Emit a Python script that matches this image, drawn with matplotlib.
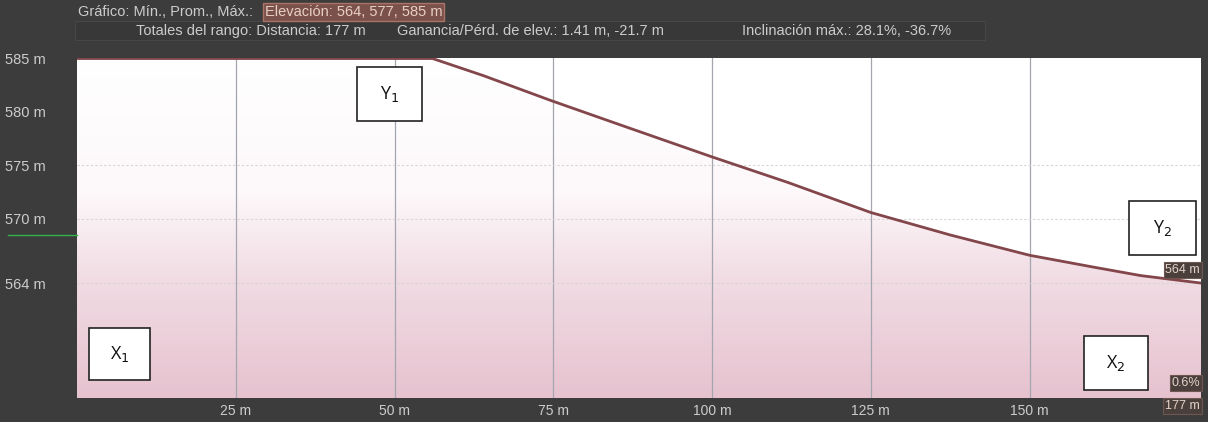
import numpy as np
import matplotlib
matplotlib.use("Agg")
import matplotlib.pyplot as plt
from matplotlib.colors import LinearSegmentedColormap
from matplotlib.patches import Polygon, Rectangle
from matplotlib.lines import Line2D

# elevation profile (distance in m, elevation in m)
distance = [0, 15, 30, 45, 56, 64, 74.5, 86, 100, 112, 125, 137.5, 150, 160, 167.5, 177]
elevation = [585, 585, 585, 585, 585, 583.4, 581.1, 578.7, 575.8, 573.4, 570.6, 568.5,
             566.6, 565.5, 564.7, 564.0]

x_ticks = [25, 50, 75, 100, 125, 150]
x_tick_labels = ["25 m", "50 m", "75 m", "100 m", "125 m", "150 m"]
y_ticks = [564, 570, 575, 580, 585]
y_tick_labels = ["564 m", "570 m", "575 m", "580 m", "585 m"]

header_1 = "Gráfico: Mín., Prom., Máx.:"
header_box = "Elevación: 564, 577, 585 m"
header_2 = ["Totales del rango: Distancia: 177 m",
            "Ganancia/Pérd. de elev.: 1.41 m, -21.7 m",
            "Inclinación máx.: 28.1%, -36.7%"]
end_labels = ["564 m", "0.6%", "177 m"]

W, H = 1208, 422
BG = "#3c3c3c"
TXT = "#cccccc"
FONT = "Liberation Sans"


def fx(px):
    return px / W


def fy(py):
    return 1 - py / H


fig = plt.figure(figsize=(W / 100, H / 100), dpi=100, facecolor=BG)
ax = fig.add_axes([fx(77), fy(398), (1201 - 77) / W, (398 - 58) / H])
ax.set_facecolor("white")
ax.set_xlim(0, 177)
ax.set_ylim(553.25, 585.05)

# gradient fill under the profile
cmap = LinearSegmentedColormap.from_list(
    "pinkfade", [(0, "#e6c2cf"), (0.35, "#f1dce4"), (0.6, "#fdf8fa"), (1, "#ffffff")])
grad = np.linspace(0, 1, 256).reshape(-1, 1)
img = ax.imshow(grad, extent=[0, 177, 553.25, 585.05], origin="lower", aspect="auto",
                cmap=cmap, zorder=1)
poly = Polygon(list(zip(distance, elevation)) + [(177, 553.25), (0, 553.25)],
               closed=True, facecolor="none", edgecolor="none")
ax.add_patch(poly)
img.set_clip_path(poly)

for xt in x_ticks:
    ax.axvline(xt, color="#a3a6ad", lw=0.9, zorder=2)
for yt in y_ticks[:-2]:
    ax.axhline(yt, color="#d9d2d6", lw=0.8, ls=(0, (2, 2)), zorder=2)

ax.plot(distance, elevation, color="#83464a", lw=2.0, zorder=4, solid_capstyle="round")

ax.set_xticks(x_ticks)
ax.set_xticklabels(x_tick_labels, color=TXT, fontsize=10, family=FONT)
ax.set_yticks(y_ticks)
ax.set_yticklabels(y_tick_labels, color=TXT, fontsize=10.5, family=FONT)
ax.tick_params(axis="both", length=0)
ax.tick_params(axis="x", pad=4)
ax.tick_params(axis="y", pad=52)
for lab in ax.get_yticklabels():
    lab.set_ha("left")
for side in ax.spines.values():
    side.set_visible(False)

# header
fig.text(fx(78), fy(12), header_1, color=TXT, fontsize=10.5, family=FONT, va="center")
fig.text(fx(265), fy(12), header_box, color="#e8cfc4", fontsize=10.5, family=FONT, va="center",
         bbox=dict(boxstyle="square,pad=0.12", facecolor="#7b514b", edgecolor="#a87466", lw=1))
fig.patches.append(Rectangle((fx(75), fy(40)), fx(985) - fx(75), fy(21) - fy(40),
                             transform=fig.transFigure, facecolor="#383838",
                             edgecolor="#474747", lw=0.8, zorder=0))
for xp, txt in zip([136, 397, 742], header_2):
    fig.text(fx(xp), fy(31), txt, color=TXT, fontsize=10.5, family=FONT, va="center")

# cursor mark on the left
fig.lines.append(Line2D([fx(8), fx(77)], [fy(235), fy(235)], transform=fig.transFigure,
                        color="#2fb34a", lw=1))

# value tags on the right edge
for yp, txt in zip([270, 383, 406], end_labels):
    fig.text(fx(1200), fy(yp), txt, color="#e3d3ca", fontsize=9, family=FONT, va="center",
             ha="right", bbox=dict(boxstyle="square,pad=0.15", facecolor="#4b3f3b",
                                   edgecolor="#6e5750", lw=0.8), zorder=10)

# annotation boxes
boxes = [(357, 67, 422, 121, "Y$_1$"), (1129, 201, 1196, 255, "Y$_2$"),
         (89, 328, 150, 380, "X$_1$"), (1084, 336, 1148, 390, "X$_2$")]
for x0, y0, x1, y1, lab in boxes:
    fig.patches.append(Rectangle((fx(x0), fy(y1)), fx(x1) - fx(x0), fy(y0) - fy(y1),
                                 transform=fig.transFigure, facecolor="white",
                                 edgecolor="#222222", lw=1.2, zorder=20))
    fig.text(fx((x0 + x1) / 2), fy((y0 + y1) / 2), lab, fontsize=13, family="Open Sans",
             ha="center", va="center", color="#111111", zorder=21)

fig.savefig("out.png", dpi=100, facecolor=BG)
